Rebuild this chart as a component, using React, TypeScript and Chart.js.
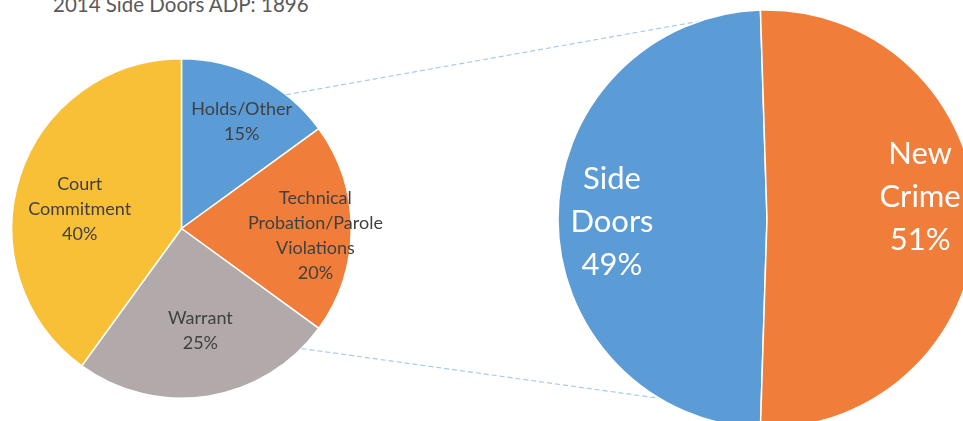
import React, { useEffect, useRef } from "react";
import { Chart, registerables } from "chart.js";

Chart.register(...registerables);

// ---- data ----
const titleText = "2014 Side Doors ADP: 1896";

const breakdownCategories: string[][] = [
  ["Holds/Other"],
  ["Technical", "Probation/Parole", "Violations"],
  ["Warrant"],
  ["Court", "Commitment"],
];
const breakdownValues = [15, 20, 25, 40];

const mainCategories: string[][] = [
  ["Side", "Doors"],
  ["New", "Crime"],
];
const mainValues = [49, 51];

// ---- styles ----
const W = 963;
const H = 421;
const breakdownColors = ["#5B9BD6", "#F07E3A", "#B2AAAA", "#F8C037"];
const mainColors = ["#5B9BD6", "#F07E3A"];
const leftPlacement = [
  { frac: 0.72, turn: 2.5 },
  { frac: 0.79, turn: 3 },
  { frac: 0.61, turn: -1.5 },
  { frac: 0.61, turn: -7.5 },
];
const rightPlacement = [
  { frac: 0.742, turn: -1 },
  { frac: 0.74, turn: -8.2 },
];
const connectorLeftDeg = [38, 135];
const connectorRightDeg = [-18.9, 210.9];

const FONT = "Lato, 'Open Sans', sans-serif";

function pct(values: number[], i: number) {
  const total = values.reduce((a, b) => a + b, 0);
  return Math.round((values[i] / total) * 100) + "%";
}

function labelPlugin(
  id: string,
  cats: string[][],
  values: number[],
  placement: { frac: number; turn: number }[],
  size: number,
  lineH: number,
  color: string
) {
  return {
    id,
    afterDatasetsDraw(chart: any) {
      const ctx = chart.ctx as CanvasRenderingContext2D;
      const meta = chart.getDatasetMeta(0);
      ctx.save();
      ctx.font = `${size}px ${FONT}`;
      ctx.fillStyle = color;
      ctx.textAlign = "center";
      ctx.textBaseline = "middle";
      meta.data.forEach((arc: any, i: number) => {
        const p = arc.getProps(["x", "y", "startAngle", "endAngle", "outerRadius"], true);
        const mid = (p.startAngle + p.endAngle) / 2 + (placement[i].turn * Math.PI) / 180;
        const d = p.outerRadius * placement[i].frac;
        const cx = p.x + Math.cos(mid) * d;
        const cy = p.y + Math.sin(mid) * d;
        const lines = [...cats[i], pct(values, i)];
        const top = cy - ((lines.length - 1) * lineH) / 2;
        lines.forEach((t, k) => ctx.fillText(t, cx, top + k * lineH));
      });
      ctx.restore();
    },
  };
}

function arcPoint(arc: any, deg: number) {
  const p = arc.getProps(["x", "y", "outerRadius"], true);
  const a = (deg * Math.PI) / 180;
  return { x: p.x + Math.sin(a) * p.outerRadius, y: p.y - Math.cos(a) * p.outerRadius };
}

export default function App() {
  const leftRef = useRef<HTMLCanvasElement>(null);
  const rightRef = useRef<HTMLCanvasElement>(null);

  useEffect(() => {
    const leftChart = new Chart(leftRef.current!, {
      type: "pie",
      data: {
        labels: breakdownCategories.map((c) => c.join(" ")),
        datasets: [
          {
            data: breakdownValues,
            backgroundColor: breakdownColors,
            borderColor: "#ffffff",
            borderWidth: 1.5,
            hoverOffset: 0,
          },
        ],
      },
      options: {
        animation: false,
        responsive: false,
        devicePixelRatio: 1,
        layout: { padding: { left: 11, top: 58, right: W - 352, bottom: H - 399 } },
        plugins: { legend: { display: false }, tooltip: { enabled: false }, title: { display: false } },
      },
      plugins: [labelPlugin("leftLabels", breakdownCategories, breakdownValues, leftPlacement, 18, 25, "#404040")],
    });

    const totalMain = mainValues.reduce((a, b) => a + b, 0);
    const connectorPlugin = {
      id: "connectors",
      beforeDatasetsDraw(chart: any) {
        const ctx = chart.ctx as CanvasRenderingContext2D;
        const lArc = leftChart.getDatasetMeta(0).data[0];
        const rArc = chart.getDatasetMeta(0).data[0];
        ctx.save();
        ctx.strokeStyle = "#A9CBEA";
        ctx.lineWidth = 1.2;
        ctx.setLineDash([5, 3]);
        for (let k = 0; k < 2; k++) {
          const a = arcPoint(lArc, connectorLeftDeg[k]);
          const b = arcPoint(rArc, connectorRightDeg[k]);
          ctx.beginPath();
          ctx.moveTo(a.x, a.y);
          ctx.lineTo(b.x, b.y);
          ctx.stroke();
        }
        ctx.restore();
      },
    };

    const rightChart = new Chart(rightRef.current!, {
      type: "pie",
      data: {
        labels: mainCategories.map((c) => c.join(" ")),
        datasets: [
          {
            data: mainValues,
            backgroundColor: mainColors,
            borderColor: "#ffffff",
            borderWidth: 1.5,
            hoverOffset: 0,
            radius: 209,
          } as any,
        ],
      },
      options: {
        animation: false,
        responsive: false,
        devicePixelRatio: 1,
        // centre the "Side Doors" slice on the left so the split is vertical
        rotation: 270 - (mainValues[0] / totalMain) * 180,
        layout: { padding: { left: 571, top: 17, right: 0, bottom: 0 } },
        plugins: { legend: { display: false }, tooltip: { enabled: false }, title: { display: false } },
      },
      plugins: [
        connectorPlugin,
        labelPlugin("rightLabels", mainCategories, mainValues, rightPlacement, 31, 43, "#ffffff"),
      ],
    });

    return () => {
      rightChart.destroy();
      leftChart.destroy();
    };
  }, []);

  return (
    <div
      style={{
        position: "fixed",
        left: 0,
        top: 0,
        width: W,
        height: H,
        overflow: "hidden",
        background: "#ffffff",
      }}
    >
      <div
        style={{
          position: "absolute",
          left: 53,
          top: -6,
          fontFamily: FONT,
          fontSize: 20.5,
          lineHeight: "20px",
          color: "#595959",
          whiteSpace: "nowrap",
        }}
      >
        {titleText}
      </div>
      <canvas
        ref={leftRef}
        width={W}
        height={H}
        style={{ position: "absolute", left: 0, top: 0, width: W, height: H }}
      />
      <canvas
        ref={rightRef}
        width={W}
        height={H}
        style={{ position: "absolute", left: 0, top: 0, width: W, height: H, pointerEvents: "none" }}
      />
    </div>
  );
}
